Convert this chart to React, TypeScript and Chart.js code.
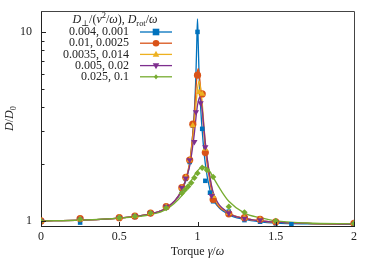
import React, { useEffect, useRef } from 'react';
import { Chart, registerables } from 'chart.js';
Chart.register(...registerables);

// ---------- data ----------
const seriesLabels = ['0.004, 0.001', '0.01, 0.0025', '0.0035, 0.014', '0.005, 0.02', '0.025, 0.1'];
const seriesColors = ['#0072BD', '#D95319', '#EDB120', '#7E2F8E', '#77AC30'];
const seriesMarkers = ['rect', 'circle', 'triangle', 'triangleDown', 'diamond'];

// simulation markers
const blueX = [0, 0.25, 0.5, 0.6, 0.7, 0.8, 0.9, 0.925, 0.95, 0.97, 1.0, 1.03, 1.05, 1.08, 1.1, 1.2, 1.3, 1.4, 1.5, 1.6, 2];
const blueY = [1.0, 0.98, 1.04, 1.05, 1.1, 1.18, 1.47, 1.67, 2.05, 3.2, 10, 3.07, 1.63, 1.41, 1.27, 1.12, 1.01, 0.99, 0.97, 0.96, 0.97];
const orangeX = [0, 0.25, 0.5, 0.6, 0.7, 0.8, 0.9, 0.925, 0.95, 0.97, 1.0, 1.03, 1.05, 1.1, 1.2, 1.3, 1.4, 1.5, 2];
const orangeY = [1.0, 1.03, 1.04, 1.06, 1.1, 1.19, 1.5, 1.7, 2.1, 3.25, 5.9, 4.7, 2.3, 1.3, 1.09, 1.04, 1.02, 0.99, 0.97];
const yellowX = [0, 0.25, 0.5, 0.6, 0.7, 0.8, 0.9, 0.925, 0.95, 0.97, 1.01, 1.03, 1.05, 1.1, 1.2, 1.3, 1.4, 1.5, 2];
const yellowY = [1.0, 1.02, 1.04, 1.06, 1.1, 1.19, 1.5, 1.7, 2.1, 3.2, 4.8, 4.7, 2.4, 1.35, 1.1, 1.04, 1.02, 0.99, 0.97];
const purpleX = [0, 0.25, 0.5, 0.6, 0.7, 0.8, 0.9, 0.925, 0.95, 0.98, 0.99, 1.02, 1.05, 1.09, 1.2, 1.3, 1.4, 1.5, 2];
const purpleY = [1.0, 1.02, 1.04, 1.06, 1.1, 1.19, 1.5, 1.68, 2.1, 2.62, 3.77, 4.2, 2.46, 1.36, 1.1, 1.03, 1.01, 0.99, 0.96];
const greenX = [0, 0.25, 0.5, 0.6, 0.7, 0.8, 0.9, 0.92, 0.94, 0.96, 0.98, 1.0, 1.03, 1.06, 1.1, 1.2, 1.3, 1.5, 2];
const greenY = [1.0, 1.02, 1.04, 1.06, 1.1, 1.17, 1.4, 1.46, 1.52, 1.59, 1.69, 1.79, 1.91, 1.86, 1.71, 1.19, 1.11, 1.0, 0.97];

// theory curves
const blueLineX = [0, 0.25, 0.5, 0.7, 0.8, 0.9, 0.95, 0.97, 0.98, 0.99, 0.995, 1.0, 1.005, 1.01, 1.02, 1.03, 1.05, 1.08, 1.1, 1.2, 1.3, 1.4, 1.5, 1.7, 2];
const blueLineY = [1.0, 1.01, 1.035, 1.09, 1.17, 1.45, 2.0, 2.9, 3.8, 6.0, 8.5, 11.7, 8.5, 6.0, 4.0, 3.0, 2.0, 1.45, 1.3, 1.08, 1.02, 0.99, 0.975, 0.965, 0.96];
const orangeLineX = [0, 0.25, 0.5, 0.7, 0.8, 0.9, 0.95, 0.97, 0.98, 0.99, 1.0, 1.005, 1.01, 1.02, 1.03, 1.05, 1.08, 1.1, 1.2, 1.3, 1.4, 1.5, 1.7, 2];
const orangeLineY = [1.0, 1.01, 1.035, 1.09, 1.17, 1.46, 2.05, 2.9, 3.7, 5.0, 6.2, 6.4, 6.1, 5.0, 3.9, 2.4, 1.6, 1.35, 1.1, 1.03, 1.0, 0.985, 0.97, 0.96];
const yellowLineX = [0, 0.25, 0.5, 0.7, 0.8, 0.9, 0.95, 0.97, 0.98, 0.99, 1.0, 1.01, 1.02, 1.03, 1.05, 1.08, 1.1, 1.2, 1.3, 1.4, 1.5, 1.7, 2];
const yellowLineY = [1.0, 1.01, 1.035, 1.09, 1.17, 1.46, 2.0, 2.7, 3.3, 4.1, 5.0, 5.5, 5.0, 4.2, 2.6, 1.7, 1.4, 1.1, 1.03, 1.0, 0.985, 0.97, 0.96];
const purpleLineX = [0, 0.25, 0.5, 0.7, 0.8, 0.9, 0.95, 0.97, 0.98, 0.99, 1.0, 1.01, 1.015, 1.02, 1.03, 1.05, 1.08, 1.1, 1.2, 1.3, 1.4, 1.5, 1.7, 2];
const purpleLineY = [1.0, 1.01, 1.035, 1.09, 1.17, 1.46, 1.95, 2.5, 2.9, 3.5, 4.1, 4.45, 4.5, 4.4, 3.9, 2.6, 1.7, 1.42, 1.1, 1.03, 1.0, 0.985, 0.97, 0.96];
const greenLineX = [0, 0.25, 0.5, 0.7, 0.8, 0.9, 0.95, 1.0, 1.04, 1.08, 1.1, 1.15, 1.2, 1.3, 1.4, 1.5, 1.7, 2];
const greenLineY = [1.0, 1.01, 1.035, 1.08, 1.15, 1.36, 1.58, 1.84, 1.93, 1.82, 1.7, 1.45, 1.27, 1.1, 1.04, 1.0, 0.975, 0.965];

const yTickValues = [1, 2, 3, 4, 5, 6, 7, 8, 9, 10];
const yTickLabels = ['1', '10'];
const xTickValues = [0, 0.5, 1, 1.5, 2];
const xTickLabels = ['0', '0.5', '1', '1.5', '2'];

const markerX = [blueX, orangeX, yellowX, purpleX, greenX];
const markerY = [blueY, orangeY, yellowY, purpleY, greenY];
const lineX = [blueLineX, orangeLineX, yellowLineX, purpleLineX, greenLineX];
const lineY = [blueLineY, orangeLineY, yellowLineY, purpleLineY, greenLineY];

const FONT = '"Liberation Serif", "DejaVu Serif", serif';

type Seg = [string, 'n' | 'i' | 'b' | 'p'];

function segFont(kind: string, size: number) {
  const s = kind === 'b' || kind === 'p' ? size * 0.7 : size;
  return (kind === 'i' ? 'italic ' : '') + s + 'px ' + FONT;
}

function drawRich(ctx: CanvasRenderingContext2D, segs: Seg[], x: number, y: number, size: number) {
  let w = 0;
  const widths = segs.map(([t, k]) => {
    ctx.font = segFont(k, size);
    const m = ctx.measureText(t).width;
    w += m;
    return m;
  });
  let cx = x - w / 2;
  ctx.textBaseline = 'middle';
  ctx.textAlign = 'left';
  segs.forEach(([t, k], i) => {
    ctx.font = segFont(k, size);
    let dy = 0;
    if (k === 'b') dy = size * 0.28;
    if (k === 'p') dy = -size * 0.32;
    ctx.fillText(t, cx, y + dy);
    cx += widths[i];
  });
}

function drawMarker(ctx: CanvasRenderingContext2D, style: string, x: number, y: number, r: number, color: string) {
  ctx.save();
  ctx.fillStyle = color;
  ctx.beginPath();
  if (style === 'rect') {
    ctx.rect(x - r, y - r, 2 * r, 2 * r);
  } else if (style === 'circle') {
    ctx.arc(x, y, r, 0, Math.PI * 2);
  } else if (style === 'triangle') {
    ctx.moveTo(x, y - r * 1.1);
    ctx.lineTo(x + r, y + r * 0.7);
    ctx.lineTo(x - r, y + r * 0.7);
    ctx.closePath();
  } else if (style === 'triangleDown') {
    ctx.moveTo(x, y + r * 1.1);
    ctx.lineTo(x + r, y - r * 0.7);
    ctx.lineTo(x - r, y - r * 0.7);
    ctx.closePath();
  } else {
    ctx.moveTo(x, y - r);
    ctx.lineTo(x + r * 0.8, y);
    ctx.lineTo(x, y + r);
    ctx.lineTo(x - r * 0.8, y);
    ctx.closePath();
  }
  ctx.fill();
  ctx.restore();
}

const overlay = {
  id: 'overlay',
  afterDatasetsDraw(chart: any) {
    const ctx: CanvasRenderingContext2D = chart.ctx;
    const { left, right, top, bottom } = chart.chartArea;
    const xs = chart.scales.x;
    const ys = chart.scales.y;
    ctx.save();
    // frame top/right
    ctx.strokeStyle = '#444';
    ctx.lineWidth = 1;
    ctx.beginPath();
    ctx.moveTo(left, top + 0.5);
    ctx.lineTo(right + 0.5, top + 0.5);
    ctx.lineTo(right + 0.5, bottom);
    ctx.stroke();
    // inward ticks
    ctx.strokeStyle = '#222';
    ctx.beginPath();
    xs.ticks.forEach((t: any) => {
      const px = Math.round(xs.getPixelForValue(t.value)) + 0.5;
      ctx.moveTo(px, bottom);
      ctx.lineTo(px, bottom - 4);
    });
    ys.ticks.forEach((t: any) => {
      const py = Math.round(ys.getPixelForValue(t.value)) + 0.5;
      const len = t.value === 1 || t.value === 10 ? 5 : 3.5;
      ctx.moveTo(left, py);
      ctx.lineTo(left + len, py);
    });
    ctx.stroke();

    // legend
    ctx.fillStyle = '#222';
    drawRich(ctx, [
      ['D', 'i'], ['⊥', 'b'], ['/(', 'n'], ['v', 'i'], ['2', 'p'], ['/', 'n'], ['ω', 'i'], ['), ', 'n'],
      ['D', 'i'], ['rot', 'b'], ['/', 'n'], ['ω', 'i'],
    ], left + 74, top + 9, 12);
    seriesLabels.forEach((lab, i) => {
      const y = top + 21 + i * 11.2;
      ctx.font = '12px ' + FONT;
      ctx.textAlign = 'right';
      ctx.textBaseline = 'middle';
      ctx.fillStyle = '#222';
      ctx.fillText(lab, left + 88, y);
      ctx.strokeStyle = seriesColors[i];
      ctx.lineWidth = 1.3;
      ctx.beginPath();
      ctx.moveTo(left + 99, y);
      ctx.lineTo(left + 131, y);
      ctx.stroke();
      drawMarker(ctx, seriesMarkers[i], left + 115, y, i === 4 ? 2.6 : 3.3, seriesColors[i]);
    });

    // axis titles
    ctx.fillStyle = '#222';
    drawRich(ctx, [['Torque ', 'n'], ['γ', 'i'], ['/', 'n'], ['ω', 'i']], (left + right) / 2, 252, 12);
    ctx.save();
    ctx.translate(10, (top + bottom) / 2);
    ctx.rotate(-Math.PI / 2);
    drawRich(ctx, [['D', 'i'], ['/', 'n'], ['D', 'i'], ['0', 'b']], 0, 0, 12);
    ctx.restore();
    ctx.restore();
  },
};

const pointStyleMap: Record<string, any> = {
  rect: 'rect', circle: 'circle', triangle: 'triangle', triangleDown: 'triangle', diamond: 'rectRot',
};

export default function App() {
  const ref = useRef<HTMLCanvasElement>(null);
  useEffect(() => {
    document.body.style.margin = '0';
    if (!ref.current) return;
    const datasets: any[] = [];
    for (let i = 0; i < 5; i++) {
      datasets.push({
        label: seriesLabels[i] + ' theory',
        data: lineX[i].map((x, j) => ({ x, y: lineY[i][j] })),
        borderColor: seriesColors[i],
        borderWidth: 1.3,
        pointRadius: 0,
        showLine: true,
        fill: false,
        cubicInterpolationMode: 'monotone',
        order: 20 - i,
      });
    }
    for (let i = 0; i < 5; i++) {
      const st = seriesMarkers[i];
      datasets.push({
        label: seriesLabels[i],
        data: markerX[i].map((x, j) => ({ x, y: markerY[i][j] })),
        backgroundColor: seriesColors[i],
        borderColor: seriesColors[i],
        borderWidth: 0,
        pointStyle: pointStyleMap[st],
        pointRotation: st === 'triangleDown' ? 180 : 0,
        pointRadius: st === 'diamond' ? 3.2 : st === 'rect' ? 3.2 : 3.6,
        showLine: false,
        order: 10 - i,
      });
    }
    const chart = new Chart(ref.current, {
      type: 'scatter',
      data: { datasets },
      options: {
        animation: false,
        responsive: false,
        layout: { padding: { left: 0, right: 20, top: 11, bottom: 0 } },
        plugins: { legend: { display: false }, tooltip: { enabled: false } },
        scales: {
          x: {
            type: 'linear',
            min: 0,
            max: 2,
            afterBuildTicks: (s: any) => { s.ticks = xTickValues.map((v) => ({ value: v })); },
            ticks: {
              color: '#222',
              padding: 4,
              font: { family: FONT, size: 12 },
              maxRotation: 0,
              autoSkip: false,
              callback: (v: any, i: number) => xTickLabels[i],
            },
            grid: { display: false, drawTicks: false },
            border: { display: true, color: '#222', width: 1 },
            afterFit: (s: any) => { s.height = 37; s.paddingLeft = 0; s.paddingRight = 0; },
          },
          y: {
            type: 'logarithmic',
            min: 0.94,
            max: 12.9,
            afterBuildTicks: (s: any) => { s.ticks = yTickValues.map((v) => ({ value: v })); },
            ticks: {
              color: '#222',
              padding: 9,
              font: { family: FONT, size: 12 },
              autoSkip: false,
              callback: (v: any) => (yTickLabels.includes(String(v)) ? String(v) : ''),
            },
            grid: { display: false, drawTicks: false },
            border: { display: true, color: '#222', width: 1 },
            afterFit: (s: any) => { s.width = 41; s.paddingTop = 0; s.paddingBottom = 0; },
          },
        },
      },
      plugins: [overlay],
    } as any);
    return () => chart.destroy();
  }, []);
  return (
    <div style={{ width: 374, height: 263 }}>
      <canvas ref={ref} width={374} height={263} />
    </div>
  );
}
